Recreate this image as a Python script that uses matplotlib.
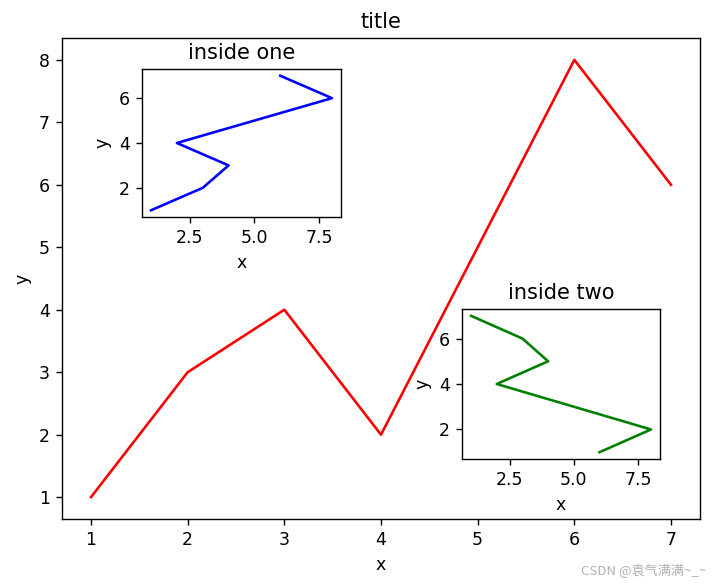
import matplotlib
matplotlib.use("Agg")
import matplotlib.pyplot as plt

x = [1, 2, 3, 4, 5, 6, 7]
y = [1, 3, 4, 2, 5, 8, 6]

W, H = 714, 585
fig = plt.figure(figsize=(W / 125, H / 125), dpi=125)


def box(l, t, r, b):
    return [l / W, (H - b) / H, (r - l) / W, (b - t) / H]


ax1 = fig.add_axes(box(62, 38, 700, 519))
ax1.plot(x, y, "r")
ax1.set_xlabel("x")
ax1.set_ylabel("y")
ax1.set_title("title")

ax2 = fig.add_axes(box(142, 69, 341, 217))
ax2.plot(y, x, "b")
ax2.set_xlabel("x")
ax2.set_ylabel("y")
ax2.set_title("inside one")

ax3 = fig.add_axes(box(462, 309, 660, 459))
ax3.plot(y[::-1], x, "g")
ax3.set_xlabel("x")
ax3.set_ylabel("y")
ax3.set_title("inside two")

fig.text(706 / W, 1 - 571 / H, "CSDN @袁气满满~_~", ha="right", va="center", fontsize=7.6,
         color="#b0b0b0", family=["Noto Sans CJK SC", "DejaVu Sans"])

fig.savefig("out.png", dpi=125)
